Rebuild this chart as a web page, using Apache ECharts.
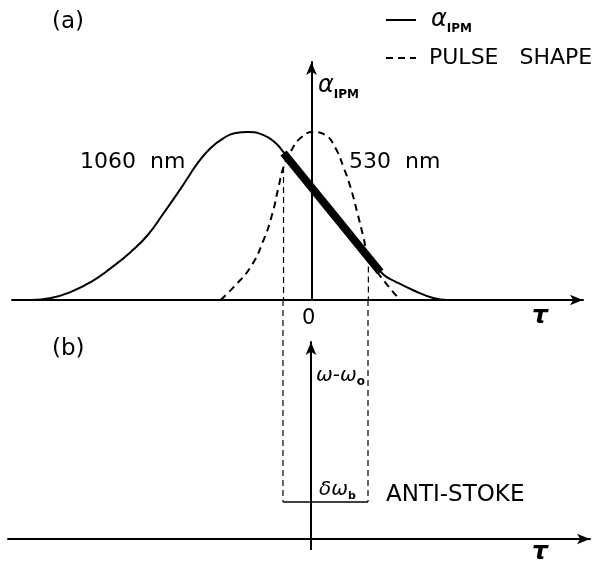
<!DOCTYPE html>
<html lang="en">
<head>
    <meta charset="UTF-8">
    <script src="https://cdn.jsdelivr.net/npm/echarts@6/dist/echarts.min.js"></script>
    <title>IPM chirp</title>
    <style>
        html, body { margin: 0; padding: 0; background: #fff; }
        #chart { width: 601px; height: 561px; }
    </style>
</head>
<body>
    <div id="chart"></div>
    <script>
        // (a) alpha_IPM curve (1060 nm)
        const tauSolid = [-28.1, -26.1, -24.1, -22.1, -20.1, -18.1, -16.4, -14.8, -13.4, -12.4, -11.4, -10.1, -8.8, -7.6, -6.4, -4.8, -3.6, -2.8, 0, 3.4, 5.9, 7.2, 8.4, 10.2, 12.2, 13.6]
        const alphaSolid = [0, 0.012, 0.048, 0.107, 0.19, 0.286, 0.387, 0.518, 0.637, 0.726, 0.815, 0.905, 0.964, 0.994, 1.0, 0.982, 0.935, 0.881, 0.685, 0.446, 0.245, 0.152, 0.11, 0.058, 0.012, 0]
        // (a) pulse shape (530 nm)
        const tauPulse = [-9.1, -7.8, -6.1, -4.8, -3.9, -3.3, -2.8, -2.1, -1.1, 0.2, 1.4, 2.4, 3.2, 3.9, 4.6, 5.2, 5.7, 6.6, 7.6, 8.7]
        const alphaPulse = [0, 0.077, 0.196, 0.357, 0.518, 0.673, 0.792, 0.881, 0.964, 1.0, 0.982, 0.905, 0.792, 0.673, 0.518, 0.375, 0.256, 0.167, 0.089, 0.012]
        // thick linear part
        const chirpTau = [-2.8, 6.9]
        const chirpAlpha = [0.875, 0.167]
        // pulse window edges and where the dashed drops start
        const gateTau = [-2.8, 5.7]
        const gateAlpha = [0.792, 0.2]
        // (b) anti-stokes band
        const bandOmega = 1.88
        const bandTopOmega = 12.13

        const black = '#000'
        const font = 'DejaVu Sans'

        function axisLine () {
            return {
                show: true,
                onZero: true,
                symbol: ['none', 'arrow'],
                symbolSize: [8, 13],
                lineStyle: { color: black, width: 2 }
            }
        }
        function bareAxis (extra) {
            return Object.assign({
                type: 'value',
                axisLine: axisLine(),
                axisTick: { show: false },
                axisLabel: { show: false },
                splitLine: { show: false }
            }, extra)
        }
        function seg (name, xi, pts, width, type) {
            return {
                name: name,
                type: 'line',
                xAxisIndex: xi,
                yAxisIndex: xi,
                data: pts,
                symbol: 'none',
                clip: false,
                silent: true,
                itemStyle: { color: black },
                lineStyle: { color: black, width: width, type: type || 'solid', cap: 'butt' }
            }
        }
        function txt (left, top, text, size, extra) {
            return {
                type: 'text', left: left, top: top,
                style: Object.assign({ text: text, fontSize: size, fontFamily: font, fill: black }, extra)
            }
        }

        let myChart = echarts.init(document.getElementById('chart'), null, { renderer: 'canvas' })

        let series = [
            Object.assign(seg('α_IPM', 0, tauSolid.map((t, i) => [t, alphaSolid[i]]), 2), { smooth: 0.5 }),
            Object.assign(seg('PULSE SHAPE', 0, tauPulse.map((t, i) => [t, alphaPulse[i]]), 2, [7, 5]), { smooth: 0.5 }),
            seg('chirp', 0, chirpTau.map((t, i) => [t, chirpAlpha[i]]), 8)
        ]
        // dashed drops in (a), then continued in (b)
        gateTau.forEach((t, i) => {
            series.push(seg('gate' + i, 0, [[t, gateAlpha[i]], [t, 0]], 1.2, [6, 4]))
            series.push(seg('gateb' + i, 1, [[t, bandTopOmega], [t, bandOmega]], 1.2, [6, 4]))
        })
        series.push(seg('band', 1, [[gateTau[0], bandOmega], [gateTau[1], bandOmega]], 1.5))
        // little stub of the omega axis below the tau axis
        series.push(seg('stub', 1, [[0, 0], [0, -0.56]], 2))

        let option = {
            animation: false,
            backgroundColor: '#fff',
            grid: [
                { left: 12, top: 62, width: 571, height: 238 },
                { left: 8, top: 342, width: 582, height: 197 }
            ],
            xAxis: [
                bareAxis({ gridIndex: 0, min: -30, max: 27.2 }),
                bareAxis({ gridIndex: 1, min: -30.3, max: 27.9 })
            ],
            yAxis: [
                bareAxis({ gridIndex: 0, min: 0, max: 1.417 }),
                bareAxis({ gridIndex: 1, min: 0, max: 10 })
            ],
            legend: {
                data: ['α_IPM', 'PULSE SHAPE'],
                orient: 'vertical',
                left: 380,
                top: 3,
                itemWidth: 30,
                itemHeight: 14,
                itemGap: 12,
                selectedMode: false,
                itemStyle: { opacity: 0 },
                formatter: name => name === 'α_IPM' ? '{a|α}{s|IPM}' : '{p|PULSE   SHAPE}',
                textStyle: {
                    color: black,
                    rich: {
                        a: { fontFamily: font, fontSize: 24, fontStyle: 'italic', lineHeight: 30, padding: [0, 0, 0, 10], color: black },
                        s: { fontFamily: font, fontSize: 12, fontWeight: 'bold', lineHeight: 10, verticalAlign: 'bottom', color: black },
                        p: { fontFamily: font, fontSize: 22, lineHeight: 20, padding: [0, 0, 0, 8], color: black }
                    }
                }
            },
            graphic: [
                txt(52, 11, '(a)', 23),
                txt(52, 338, '(b)', 23),
                txt(80, 151, '1060  nm', 22),
                txt(349, 151, '530  nm', 22),
                txt(302, 308, '0', 21),
                txt(532, 304, 'τ', 25, { fontStyle: 'italic', fontWeight: 'bold' }),
                txt(532, 540, 'τ', 25, { fontStyle: 'italic', fontWeight: 'bold' }),
                txt(318, 74, '{a|α}{s|IPM}', 24, {
                    rich: {
                        a: { fontFamily: font, fontSize: 24, fontStyle: 'italic', lineHeight: 30 },
                        s: { fontFamily: font, fontSize: 12, fontWeight: 'bold', lineHeight: 10, verticalAlign: 'bottom' }
                    }
                }),
                txt(316, 366, '{w|ω-ω}{o|o}', 20, {
                    rich: {
                        w: { fontFamily: font, fontSize: 20, fontStyle: 'italic', lineHeight: 24 },
                        o: { fontFamily: font, fontSize: 12, fontWeight: 'bold', lineHeight: 10, verticalAlign: 'bottom' }
                    }
                }),
                txt(319, 480, '{w|δω}{o|b}', 20, {
                    rich: {
                        w: { fontFamily: font, fontSize: 20, fontStyle: 'italic', lineHeight: 24 },
                        o: { fontFamily: font, fontSize: 11, fontWeight: 'bold', lineHeight: 10, verticalAlign: 'bottom' }
                    }
                }),
                txt(386, 484, 'ANTI-STOKE', 23)
            ],
            series: series
        }
        myChart.setOption(option)
    </script>
</body>
</html>
